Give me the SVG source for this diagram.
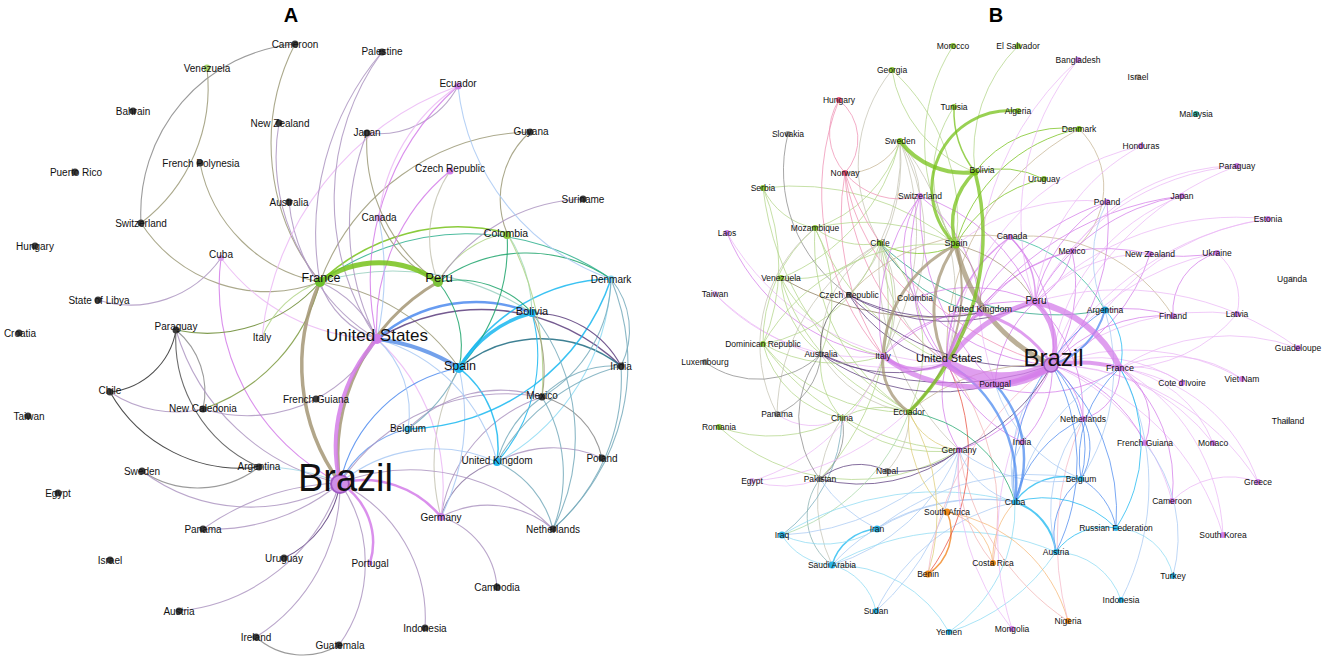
<svg xmlns="http://www.w3.org/2000/svg" width="1325" height="663" viewBox="0 0 1325 663">
<style>
.e path{fill:none;stroke-linecap:round}
.g1{stroke:#77c21a}.gt{stroke:#1fa56c}.ol{stroke:#9c9a78}.ot{stroke:#a49676}.gy{stroke:#8a8a8a}.dk{stroke:#2e2e2e}
.pg{stroke:#ae96c2}.mg{stroke:#d47de9}.lp{stroke:#ebb8f5}.lb{stroke:#a9c9f3}.bl{stroke:#4d8bef}.cy{stroke:#19b7f0}
.tl{stroke:#78acbc}.dp{stroke:#5c3d7d}.dt{stroke:#1c6a80}.lg{stroke:#b3d58a}.pk{stroke:#ef92b4}.tn{stroke:#c7b595}
.lc{stroke:#8edbf3}.or{stroke:#f07d12}.lo{stroke:#f6b878}.rd{stroke:#e84c3c}.yl{stroke:#dccc7a}.g2{stroke:#c6c4b4}.tg{stroke:#2fb08e}
.lr{stroke:#f2b4b4}
.na text,.nb text{fill:#111}
.t{font-family:"Liberation Sans",Arial,sans-serif;font-weight:bold;font-size:20px;fill:#000;text-anchor:middle}
</style>
<rect width="1325" height="663" fill="#fff"/>
<text class="t" x="291" y="22">A</text>
<text class="t" x="996" y="22">B</text>

<g id="edges-a" class="e" stroke-width="1.1" stroke-opacity=".85">
<path class="gy" d="M295 44 A170 170 0 0 0 141 223"/>
<path class="ol" d="M141 223 A150 150 0 0 0 320 282"/>
<path class="ol" d="M207 68 A170 170 0 0 1 141 223"/>
<path class="ol" d="M200 163 A150 150 0 0 0 320 282"/>
<path class="ol" d="M295 44 A220 220 0 0 0 320 282"/>
<path class="pg" d="M279 123 A200 200 0 0 0 320 282"/>
<path class="pg" d="M289 202 A180 180 0 0 0 377 339"/>
<path class="pg" d="M221 258 A110 110 0 0 1 98 300"/>
<path class="lp" d="M221 258 A200 200 0 0 0 377 339"/>
<path class="mg" d="M221 258 A220 220 0 0 0 340 483"/>
<path class="dk" d="M176 330 A75 75 0 0 1 110 392"/>
<path class="dk" stroke-opacity=".7" d="M176 330 A140 140 0 0 0 259 467"/>
<path class="gy" d="M176 330 A80 80 0 0 1 203 409"/>
<path class="pg" d="M176 330 A220 220 0 0 0 340 483"/>
<path class="dk" d="M110 392 A150 150 0 0 0 259 467"/>
<path class="pg" d="M110 392 A120 120 0 0 0 203 409"/>
<path class="pg" d="M203 409 A150 150 0 0 0 316 399"/>
<path stroke="#7d9a40" d="M203 409 A180 180 0 0 0 320 282"/>
<path class="gy" d="M142 471 A100 100 0 0 0 259 467"/>
<path class="pg" d="M142 471 A180 180 0 0 0 340 483"/>
<path class="pg" d="M203 529 A250 250 0 0 1 340 483"/>
<path class="pg" d="M203 529 A200 200 0 0 0 340 483"/>
<path class="dp" d="M284 558 A100 100 0 0 0 340 483"/>
<path class="pg" d="M179 611 A190 190 0 0 0 340 483"/>
<path class="pg" d="M256 637 A180 180 0 0 0 340 483"/>
<path class="gy" d="M256 637 A70 70 0 0 0 339 645"/>
<path class="pg" d="M339 645 A140 140 0 0 0 340 483"/>
<path class="mg" stroke-width="2.5" d="M370 563 A70 70 0 0 0 340 483"/>
<path class="pg" d="M425 628 A150 150 0 0 0 340 483"/>
<path class="mg" stroke-width="2.5" d="M340 483 A100 100 0 0 1 441 517"/>
<path class="pg" d="M441 517 A80 80 0 0 1 497 587"/>
<path class="pg" d="M441 517 A100 100 0 0 1 553 529"/>
<path class="dp" stroke-opacity=".6" d="M441 517 A80 80 0 0 1 497 462"/>
<path class="pg" d="M441 517 A150 150 0 0 1 542 397"/>
<path class="g2" d="M441 517 A200 200 0 0 1 459 368"/>
<path class="lb" d="M441 517 A220 220 0 0 0 459 368"/>
<path class="lp" d="M377 339 A200 200 0 0 1 441 517"/>
<path class="pg" d="M340 483 A200 200 0 0 1 553 529"/>
<path stroke="#6a9ef0" d="M340 483 A100 100 0 0 1 408 429"/>
<path class="bl" d="M340 483 A150 150 0 0 1 459 368"/>
<path class="pg" d="M340 483 A200 200 0 0 1 542 397"/>
<path class="lb" d="M340 483 A150 150 0 0 1 497 462"/>
<path class="g1" stroke-width="1.6" d="M320 282 A200 200 0 0 1 507 233"/>
<path class="pg" d="M320 282 A90 90 0 0 0 377 339"/>
<path class="pg" d="M320 282 A110 110 0 0 1 377 339"/>
<path class="ol" d="M320 282 A200 200 0 0 1 459 368"/>
<path stroke="#9ad0c0" d="M320 282 A250 250 0 0 1 532 313"/>
<path stroke="#6a8a30" d="M320 282 A150 150 0 0 1 176 330"/>
<path class="lg" d="M320 282 A100 100 0 0 0 262 337"/>
<path class="dp" stroke-width="1.5" d="M377 339 A200 200 0 0 1 621 366"/>
<path class="bl" stroke-width="2.5" d="M377 339 A150 150 0 0 1 532 313"/>
<path class="cy" stroke-width="1.5" d="M459 368 A180 180 0 0 1 611 279"/>
<path class="dt" stroke-width="1.5" d="M459 368 A130 130 0 0 1 621 366"/>
<path class="cy" stroke-width="1.5" d="M408 429 A220 220 0 0 0 611 279"/>
<path class="cy" stroke-width="1.5" d="M459 368 A100 100 0 0 1 497 462"/>
<path class="cy" d="M497 462 A160 160 0 0 0 532 313"/>
<path class="lc" d="M497 462 A220 220 0 0 0 611 279"/>
<path class="gt" d="M438 282 A100 100 0 0 1 532 313"/>
<path class="lg" d="M438 282 A100 100 0 0 1 507 233"/>
<path class="gt" d="M507 233 A180 180 0 0 1 459 368"/>
<path stroke="#a8dcc0" d="M507 233 A150 150 0 0 1 532 313"/>
<path class="gt" d="M438 282 A150 150 0 0 1 611 279"/>
<path class="gt" d="M438 282 A100 100 0 0 1 459 368"/>
<path class="tg" d="M320 282 A250 250 0 0 1 611 279"/>
<path class="ol" d="M507 233 A90 90 0 0 1 530 132"/>
<path class="ol" d="M530 132 A230 230 0 0 0 320 282"/>
<path class="pg" d="M583 199 A180 180 0 0 0 438 282"/>
<path class="lb" d="M458 86 A230 230 0 0 0 611 279"/>
<path class="pg" d="M458 86 A90 90 0 0 1 367 133"/>
<path class="mg" d="M458 86 A260 260 0 0 0 377 339"/>
<path class="lp" d="M458 86 A180 180 0 0 0 379 218"/>
<path class="lp" d="M458 86 A300 300 0 0 0 262 337"/>
<path class="pg" d="M367 133 A250 250 0 0 0 377 339"/>
<path class="ol" d="M367 133 A170 170 0 0 0 438 282"/>
<path class="pg" d="M382 52 A250 250 0 0 0 377 339"/>
<path class="pg" d="M382 52 A280 280 0 0 0 320 282"/>
<path class="mg" d="M450 171 A200 200 0 0 0 377 339"/>
<path class="g2" d="M450 171 A120 120 0 0 0 438 282"/>
<path class="lb" d="M379 218 A300 300 0 0 1 377 339"/>
<path class="ol" d="M379 218 A120 120 0 0 0 438 282"/>
<path class="tl" d="M611 279 A140 140 0 0 1 542 397"/>
<path class="tl" d="M611 279 A220 220 0 0 1 553 529"/>
<path class="tl" d="M621 366 A200 200 0 0 1 553 529"/>
<path class="tl" d="M621 366 A100 100 0 0 0 542 397"/>
<path class="tl" d="M621 366 A200 200 0 0 0 497 462"/>
<path class="gy" d="M542 397 A80 80 0 0 1 602 458"/>
<path class="tl" d="M542 397 A120 120 0 0 0 497 462"/>
<path class="pg" d="M542 397 A130 130 0 0 0 408 429"/>
<path class="tl" d="M542 397 A150 150 0 0 1 553 529"/>
<path class="pg" d="M602 458 A120 120 0 0 0 497 462"/>
<path class="tl" d="M497 462 A100 100 0 0 1 553 529"/>
<path class="dp" d="M532 313 A100 100 0 0 1 621 366"/>
<path class="lg" d="M507 233 A300 300 0 0 1 542 397"/>
<path class="tl" d="M611 279 A80 80 0 0 1 621 366"/>
<path stroke="#a8d8e8" d="M259 467 A200 200 0 0 1 340 483"/>
<path class="pg" d="M316 399 A150 150 0 0 0 377 339"/>
<path class="tl" d="M408 429 A150 150 0 0 0 459 368"/>
<path class="lb" d="M377 339 A100 100 0 0 1 408 429"/>
<path class="lb" d="M377 339 A170 170 0 0 1 497 462"/>
<path class="ol" d="M532 313 A150 150 0 0 1 542 397"/>
<path class="tl" d="M532 313 A200 200 0 0 1 553 529"/>
<path class="ot" stroke-width="3.5" d="M340 483 A200 200 0 0 1 320 282"/>
<path class="ot" stroke-width="3" d="M340 483 A200 200 0 0 1 438 282"/>
<path class="mg" stroke-width="4" d="M340 483 A160 160 0 0 1 377 339"/>
<path stroke="#5a90e8" stroke-width="4" d="M377 339 A200 200 0 0 1 459 368"/>
<path class="cy" stroke-width="3.5" d="M459 368 A120 120 0 0 1 532 313"/>
<path class="g1" stroke-width="5" d="M320 282 A100 100 0 0 1 438 282"/>
</g>

<g id="edges-b" class="e" stroke-width="1" stroke-opacity=".75">
<path class="g1" stroke-width="1.5" d="M954 107 A100 100 0 0 0 975 172"/>
<path class="g1" d="M1079 129 A110 110 0 0 0 975 172"/>
<path class="g1" d="M1079 129 A160 160 0 0 0 956 245"/>
<path class="g1" d="M1044 179 A100 100 0 0 0 975 172"/>
<path class="g1" d="M1044 179 A130 130 0 0 0 956 245"/>
<path class="tn" d="M1079 129 A250 250 0 0 0 947 363"/>
<path class="tn" d="M1079 129 A80 80 0 0 1 1072 251"/>
<path class="lg" d="M953 46 A180 180 0 0 0 956 245"/>
<path class="lg" d="M1018 46 A150 150 0 0 0 975 172"/>
<path class="g2" d="M892 70 A150 150 0 0 0 880 243"/>
<path class="lg" d="M892 70 A130 130 0 0 0 975 172"/>
<path class="lg" d="M892 70 A200 200 0 0 1 956 245"/>
<path class="lg" d="M954 107 A120 120 0 0 0 956 245"/>
<path class="lg" d="M900 141 A130 130 0 0 1 815 228"/>
<path class="g2" d="M900 141 A200 200 0 0 1 880 243"/>
<path class="tn" d="M900 141 A60 60 0 0 1 845 173"/>
<path class="g2" d="M900 141 A200 200 0 0 1 915 298"/>
<path class="g2" d="M900 141 A100 100 0 0 1 920 196"/>
<path class="g2" d="M900 141 A200 200 0 0 1 849 295"/>
<path class="g2" d="M900 141 A250 250 0 0 1 883 356"/>
<path class="lg" d="M900 141 A200 200 0 0 1 781 278"/>
<path class="g2" d="M900 141 A250 250 0 0 1 947 363"/>
<path class="lg" d="M763 188 A70 70 0 0 0 815 228"/>
<path class="lg" d="M763 188 A200 200 0 0 1 763 344"/>
<path class="lg" d="M763 188 A250 250 0 0 1 956 245"/>
<path class="lg" d="M763 188 A300 300 0 0 0 909 412"/>
<path class="gy" d="M788 134 A150 150 0 0 0 849 295"/>
<path class="pk" d="M839 100 A60 60 0 0 0 845 173"/>
<path class="pk" d="M839 100 A50 50 0 0 1 845 173"/>
<path class="pk" d="M845 173 A70 70 0 0 0 920 196"/>
<path class="pk" d="M845 173 A250 250 0 0 0 883 356"/>
<path class="pk" d="M845 173 A250 250 0 0 0 947 363"/>
<path class="pk" d="M845 173 A200 200 0 0 0 915 298"/>
<path class="pk" d="M845 173 A300 300 0 0 0 1052 365"/>
<path class="pk" d="M839 100 A250 250 0 0 0 883 356"/>
<path class="mg" d="M727 233 A200 200 0 0 0 883 356"/>
<path class="lp" d="M727 233 A260 260 0 0 0 947 363"/>
<path class="lp" d="M715 294 A260 260 0 0 0 947 363"/>
<path class="lp" d="M715 294 A200 200 0 0 0 883 356"/>
<path class="lg" d="M781 278 A120 120 0 0 0 880 243"/>
<path class="lg" d="M781 278 A200 200 0 0 0 909 412"/>
<path class="lg" d="M781 278 A150 150 0 0 0 883 356"/>
<path class="lg" d="M781 278 A100 100 0 0 0 821 354"/>
<path stroke="#8a7a5a" d="M781 278 A300 300 0 0 0 980 313"/>
<path class="lg" d="M815 228 A80 80 0 0 0 880 243"/>
<path class="lg" d="M815 228 A200 200 0 0 1 956 245"/>
<path class="lg" d="M815 228 A150 150 0 0 0 763 344"/>
<path class="lg" d="M815 228 A200 200 0 0 0 909 412"/>
<path class="lg" d="M815 228 A250 250 0 0 0 947 363"/>
<path class="lg" d="M815 228 A150 150 0 0 1 821 354"/>
<path class="g2" d="M815 228 A150 150 0 0 0 777 414"/>
<path class="g1" d="M880 243 A80 80 0 0 0 956 245"/>
<path stroke="#20a080" d="M880 243 A150 150 0 0 0 980 313"/>
<path stroke="#20a080" d="M880 243 A250 250 0 0 0 1105 310"/>
<path class="g2" d="M880 243 A200 200 0 0 0 777 414"/>
<path class="lg" d="M880 243 A150 150 0 0 1 842 418"/>
<path class="lg" d="M880 243 A150 150 0 0 1 909 412"/>
<path class="g2" d="M880 243 A120 120 0 0 0 821 354"/>
<path class="g2" d="M880 243 A150 150 0 0 0 947 363"/>
<path class="g2" d="M880 243 A120 120 0 0 1 883 356"/>
<path class="lg" d="M880 243 A150 150 0 0 1 763 344"/>
<path class="lg" d="M880 243 A250 250 0 0 1 820 479"/>
<path class="g2" d="M880 243 A250 250 0 0 0 959 450"/>
<path class="mg" d="M920 196 A180 180 0 0 0 947 363"/>
<path class="mg" d="M920 196 A200 200 0 0 0 883 356"/>
<path class="mg" d="M920 196 A180 180 0 0 1 1035 302"/>
<path class="mg" d="M920 196 A150 150 0 0 1 980 313"/>
<path class="mg" d="M920 196 A100 100 0 0 0 915 298"/>
<path class="mg" d="M920 196 A250 250 0 0 0 995 384"/>
<path class="mg" d="M915 298 A100 100 0 0 0 947 363"/>
<path class="mg" d="M915 298 A200 200 0 0 0 1052 365"/>
<path class="mg" d="M915 298 A150 150 0 0 1 1035 302"/>
<path class="mg" d="M883 356 A200 200 0 0 1 1035 302"/>
<path class="mg" d="M883 356 A120 120 0 0 1 980 313"/>
<path class="mg" d="M995 384 A120 120 0 0 1 1035 302"/>
<path class="mg" stroke-width="1.5" d="M1010 237 A80 80 0 0 1 1035 302"/>
<path class="mg" stroke-width="1.5" d="M1010 237 A150 150 0 0 0 947 363"/>
<path class="mg" d="M1010 237 A150 150 0 0 1 1052 365"/>
<path class="mg" d="M1010 237 A100 100 0 0 0 980 313"/>
<path stroke="#30b898" d="M1010 237 A150 150 0 0 1 1105 310"/>
<path class="tn" d="M1010 237 A180 180 0 0 0 849 295"/>
<path class="tn" d="M1010 237 A170 170 0 0 1 1173 316"/>
<path class="mg" d="M1072 251 A80 80 0 0 1 1035 302"/>
<path class="mg" d="M1072 251 A180 180 0 0 0 947 363"/>
<path class="mg" d="M1072 251 A150 150 0 0 1 1052 365"/>
<path class="mg" d="M1072 251 A150 150 0 0 0 980 313"/>
<path class="mg" d="M1150 254 A200 200 0 0 0 1072 251"/>
<path class="lp" d="M1150 254 A150 150 0 0 0 1035 302"/>
<path class="mg" d="M1150 254 A180 180 0 0 1 1052 365"/>
<path class="mg" d="M1217 253 A200 200 0 0 1 1150 254"/>
<path class="mg" d="M1217 253 A60 60 0 0 0 1173 316"/>
<path class="lp" d="M1217 253 A60 60 0 0 1 1237 314"/>
<path class="lp" d="M1217 253 A250 250 0 0 0 1052 365"/>
<path class="mg" d="M1173 316 A150 150 0 0 0 1105 310"/>
<path class="mg" d="M1173 316 A150 150 0 0 0 1052 365"/>
<path class="lp" d="M1237 314 A250 250 0 0 0 1052 365"/>
<path class="lp" d="M1237 314 A150 150 0 0 1 1120 368"/>
<path class="mg" d="M1182 196 A200 200 0 0 0 1035 302"/>
<path class="lp" d="M1182 196 A200 200 0 0 0 1052 365"/>
<path class="mg" d="M1182 196 A300 300 0 0 0 947 363"/>
<path class="lp" d="M1237 166 A250 250 0 0 0 1035 302"/>
<path class="lp" d="M1237 166 A200 200 0 0 0 1072 251"/>
<path class="lp" d="M1237 166 A300 300 0 0 0 1052 365"/>
<path class="lp" d="M1268 219 A280 280 0 0 0 1035 302"/>
<path class="lp" d="M1268 219 A250 250 0 0 0 1105 310"/>
<path class="lp" d="M1268 219 A300 300 0 0 0 1052 365"/>
<path class="lp" d="M1141 146 A250 250 0 0 0 947 363"/>
<path class="lp" d="M1141 146 A200 200 0 0 0 1035 302"/>
<path class="lp" d="M1078 60 A300 300 0 0 0 995 384"/>
<path class="lp" d="M1078 60 A250 250 0 0 0 1035 302"/>
<path class="mg" d="M1107 202 A150 150 0 0 0 1035 302"/>
<path class="lp" d="M1107 202 A200 200 0 0 0 956 245"/>
<path class="lb" d="M1107 202 A120 120 0 0 0 1105 310"/>
<path class="mg" d="M1107 202 A200 200 0 0 1 1052 365"/>
<path class="mg" d="M1107 202 A250 250 0 0 0 947 363"/>
<path class="lp" d="M1298 348 A300 300 0 0 0 1035 302"/>
<path class="lp" d="M1298 348 A200 200 0 0 0 1120 368"/>
<path class="lp" d="M1242 379 A220 220 0 0 0 1052 365"/>
<path class="lp" d="M1242 379 A120 120 0 0 0 1120 368"/>
<path class="lp" d="M1182 383 A150 150 0 0 0 1052 365"/>
<path class="lp" d="M1182 383 A80 80 0 0 0 1120 368"/>
<path class="lp" d="M1213 443 A120 120 0 0 0 1120 368"/>
<path class="lp" d="M1213 443 A200 200 0 0 0 1052 365"/>
<path class="lp" d="M1258 482 A80 80 0 0 0 1172 501"/>
<path class="lp" d="M1258 482 A170 170 0 0 0 1120 368"/>
<path class="lp" d="M1258 482 A250 250 0 0 0 1052 365"/>
<path class="lp" d="M1223 535 A200 200 0 0 0 1120 368"/>
<path class="lp" d="M1223 535 A250 250 0 0 0 1052 365"/>
<path class="mg" d="M1172 501 A150 150 0 0 0 1120 368"/>
<path class="lp" d="M1172 501 A200 200 0 0 0 1052 365"/>
<path class="mg" d="M1145 443 A60 60 0 0 0 1120 368"/>
<path class="mg" d="M1145 443 A150 150 0 0 0 1052 365"/>
<path class="mg" d="M1083 419 A80 80 0 0 0 1052 365"/>
<path class="mg" d="M1083 419 A50 50 0 0 0 1120 368"/>
<path class="mg" d="M1083 419 A150 150 0 0 0 1035 302"/>
<path class="mg" d="M1022 442 A100 100 0 0 0 1052 365"/>
<path class="mg" d="M959 450 A150 150 0 0 0 1052 365"/>
<path class="mg" d="M959 450 A100 100 0 0 1 947 363"/>
<path class="mg" d="M947 363 A150 150 0 0 0 1120 368"/>
<path class="dp" d="M821 354 A200 200 0 0 0 995 384"/>
<path class="dp" d="M821 354 A300 300 0 0 0 1052 365"/>
<path class="dp" d="M821 354 A150 150 0 0 0 947 363"/>
<path class="g2" d="M821 354 A120 120 0 0 0 909 412"/>
<path class="dp" d="M849 295 A200 200 0 0 0 980 313"/>
<path class="dp" d="M849 295 A150 150 0 0 0 947 363"/>
<path class="dp" d="M849 295 A250 250 0 0 0 1052 365"/>
<path class="dp" d="M849 295 A200 200 0 0 0 1035 302"/>
<path stroke="#555" d="M849 295 A60 60 0 0 0 821 354"/>
<path class="gy" d="M705 362 A90 90 0 0 0 821 354"/>
<path class="lg" d="M763 344 A150 150 0 0 0 883 356"/>
<path class="lg" d="M763 344 A180 180 0 0 0 909 412"/>
<path class="lg" d="M763 344 A200 200 0 0 1 956 245"/>
<path class="lg" d="M763 344 A100 100 0 0 0 842 418"/>
<path class="lg" d="M763 344 A250 250 0 0 0 959 450"/>
<path class="gy" d="M777 414 A70 70 0 0 0 821 354"/>
<path class="lp" d="M777 414 A60 60 0 0 0 842 418"/>
<path class="lg" d="M842 418 A80 80 0 0 1 821 354"/>
<path class="lg" d="M842 418 A80 80 0 0 1 909 412"/>
<path class="lg" d="M842 418 A150 150 0 0 0 959 450"/>
<path class="gy" d="M842 418 A60 60 0 0 1 820 479"/>
<path class="g2" d="M842 418 A150 150 0 0 0 832 565"/>
<path class="tl" d="M842 418 A150 150 0 0 1 782 535"/>
<path class="lg" d="M719 427 A200 200 0 0 0 959 450"/>
<path class="lg" d="M719 427 A150 150 0 0 0 842 418"/>
<path class="lp" d="M752 481 A200 200 0 0 0 883 356"/>
<path class="lp" d="M752 481 A100 100 0 0 0 820 479"/>
<path class="lp" d="M752 481 A250 250 0 0 0 947 363"/>
<path class="dp" d="M820 479 A60 60 0 0 1 887 471"/>
<path class="dp" d="M820 479 A160 160 0 0 0 959 450"/>
<path class="dp" d="M887 471 A100 100 0 0 0 959 450"/>
<path class="g2" d="M887 471 A80 80 0 0 0 909 412"/>
<path class="gy" d="M820 479 A100 100 0 0 1 821 354"/>
<path stroke="#8ab0b0" d="M820 479 A60 60 0 0 0 832 565"/>
<path class="lb" d="M820 479 A150 150 0 0 0 877 529"/>
<path class="cy" stroke-width="1.5" d="M832 565 A50 50 0 0 1 877 529"/>
<path class="lc" d="M832 565 A60 60 0 0 1 782 535"/>
<path class="lc" d="M832 565 A60 60 0 0 1 876 611"/>
<path class="lc" d="M832 565 A130 130 0 0 1 949 632"/>
<path class="lc" d="M782 535 A100 100 0 0 0 877 529"/>
<path stroke="#a8d8a8" d="M782 535 A200 200 0 0 0 909 412"/>
<path class="lc" d="M782 535 A300 300 0 0 1 1015 502"/>
<path class="lb" d="M782 535 A250 250 0 0 0 959 450"/>
<path class="lb" d="M832 565 A200 200 0 0 1 1015 502"/>
<path class="lb" d="M832 565 A200 200 0 0 0 959 450"/>
<path class="lc" d="M832 565 A250 250 0 0 1 1056 552"/>
<path class="lb" d="M876 611 A200 200 0 0 1 1015 502"/>
<path class="lb" d="M876 611 A250 250 0 0 0 959 450"/>
<path class="lc" d="M949 632 A150 150 0 0 0 1015 502"/>
<path class="lc" d="M949 632 A200 200 0 0 0 1056 552"/>
<path class="lb" d="M877 529 A200 200 0 0 1 1015 502"/>
<path class="lb" d="M877 529 A250 250 0 0 1 1081 479"/>
<path class="or" stroke-width="1.5" d="M947 512 A50 50 0 0 1 928 574"/>
<path class="lo" d="M947 512 A60 60 0 0 1 993 563"/>
<path class="lo" d="M947 512 A150 150 0 0 1 1068 621"/>
<path class="lo" d="M993 563 A80 80 0 0 1 1015 502"/>
<path class="rd" d="M928 574 A200 200 0 0 0 947 363"/>
<path class="yl" d="M928 574 A200 200 0 0 0 909 412"/>
<path stroke="#f4b8c8" d="M928 574 A300 300 0 0 1 1052 365"/>
<path class="lr" d="M993 563 A250 250 0 0 0 947 363"/>
<path class="lr" d="M993 563 A150 150 0 0 1 959 450"/>
<path class="lr" d="M1068 621 A250 250 0 0 1 959 450"/>
<path stroke="#f4b8c8" d="M1068 621 A300 300 0 0 1 1083 419"/>
<path class="lp" d="M1012 629 A300 300 0 0 1 1052 365"/>
<path class="lp" d="M1012 629 A250 250 0 0 1 959 450"/>
<path class="cy" stroke-width="1.5" d="M1015 502 A60 60 0 0 1 1081 479"/>
<path class="cy" d="M1015 502 A100 100 0 0 1 1116 528"/>
<path class="cy" stroke-width="2" d="M1015 502 A60 60 0 0 1 1056 552"/>
<path class="bl" d="M1081 479 A70 70 0 0 0 1056 552"/>
<path class="bl" d="M1081 479 A70 70 0 0 1 1116 528"/>
<path class="cy" d="M1056 552 A60 60 0 0 1 1116 528"/>
<path class="lc" d="M1056 552 A70 70 0 0 1 1121 600"/>
<path class="lc" d="M1116 528 A60 60 0 0 1 1173 576"/>
<path class="lb" d="M1173 576 A150 150 0 0 0 1145 443"/>
<path class="lb" d="M1121 600 A250 250 0 0 0 1120 368"/>
<path class="bl" stroke-width="2" d="M1105 310 A80 80 0 0 1 1052 365"/>
<path class="bl" d="M1105 310 A200 200 0 0 0 1015 502"/>
<path class="lb" d="M1105 310 A200 200 0 0 1 1081 479"/>
<path class="cy" d="M1105 310 A60 60 0 0 1 1120 368"/>
<path class="bl" d="M1052 365 A120 120 0 0 1 1081 479"/>
<path class="bl" d="M1052 365 A200 200 0 0 1 1056 552"/>
<path class="bl" d="M1052 365 A200 200 0 0 1 1116 528"/>
<path class="lb" d="M1052 365 A150 150 0 0 0 1015 502"/>
<path class="dp" d="M1052 365 A200 200 0 0 1 959 450"/>
<path class="mg" d="M947 363 A150 150 0 0 0 1022 442"/>
<path class="tn" d="M909 412 A200 200 0 0 1 1052 365"/>
<path class="gt" d="M909 412 A130 130 0 0 1 1015 502"/>
<path class="yl" d="M909 412 A60 60 0 0 0 959 450"/>
<path class="yl" d="M909 412 A120 120 0 0 0 947 512"/>
<path class="bl" d="M1083 419 A120 120 0 0 0 1015 502"/>
<path class="bl" d="M1083 419 A60 60 0 0 1 1081 479"/>
<path class="lb" d="M1083 419 A150 150 0 0 0 1056 552"/>
<path class="lb" d="M995 384 A150 150 0 0 0 1081 479"/>
<path class="lb" d="M1022 442 A80 80 0 0 0 1015 502"/>
<path class="lb" d="M959 450 A80 80 0 0 0 1015 502"/>
<path class="lb" d="M959 450 A150 150 0 0 0 1081 479"/>
<path class="cy" d="M1120 368 A150 150 0 0 1 1116 528"/>
<path class="bl" d="M1120 368 A120 120 0 0 0 1081 479"/>
<path class="lb" d="M1120 368 A200 200 0 0 0 1015 502"/>
<path class="bl" stroke-width="2.5" d="M1015 502 A140 140 0 0 0 947 363"/>
<path class="bl" stroke-width="2.5" d="M995 384 A110 110 0 0 1 1015 502"/>
<path class="ot" d="M956 245 A120 120 0 0 1 1035 302"/>
<path class="ot" d="M956 245 A80 80 0 0 1 980 313"/>
<path class="ot" stroke-width="2" d="M956 245 A170 170 0 0 1 909 412"/>
<path class="ot" stroke-width="3" d="M956 245 A110 110 0 0 0 947 363"/>
<path class="ot" stroke-width="3" d="M956 245 A130 130 0 0 0 883 356"/>
<path class="ot" stroke-width="3" d="M883 356 A60 60 0 0 0 909 412"/>
<path class="ot" stroke-width="5" d="M956 245 A170 170 0 0 0 1052 365"/>
<path class="mg" stroke-width="3" d="M883 356 A60 60 0 0 0 947 363"/>
<path class="mg" stroke-width="5" d="M883 356 A150 150 0 0 0 1052 365"/>
<path class="mg" stroke-width="3" d="M947 363 A80 80 0 0 1 980 313"/>
<path class="mg" stroke-width="3" d="M980 313 A120 120 0 0 1 1052 365"/>
<path class="mg" stroke-width="5" d="M947 363 A150 150 0 0 1 1035 302"/>
<path class="mg" stroke-width="5" d="M1035 302 A60 60 0 0 1 1052 365"/>
<path class="mg" stroke-width="6" d="M1035 302 A120 120 0 0 1 1120 368"/>
<path class="mg" stroke-width="4" d="M1052 365 A150 150 0 0 1 1120 368"/>
<path class="mg" stroke-width="5" d="M947 363 A60 60 0 0 0 995 384"/>
<path class="mg" stroke-width="6" d="M995 384 A80 80 0 0 0 1052 365"/>
<path class="mg" stroke-width="10" d="M947 363 A110 110 0 0 0 1052 365"/>
<path class="g1" stroke-width="4" d="M900 141 A80 80 0 0 0 975 172"/>
<path class="g1" stroke-width="3" d="M1018 111 A78 78 0 0 0 956 245"/>
<path class="g1" stroke-width="3.5" d="M975 172 A70 70 0 0 0 956 245"/>
<path class="g1" stroke-width="3.5" d="M975 172 A250 250 0 0 1 909 412"/>
</g>

<g id="nodes-a" class="na" fill="#3a3a3a" font-family="'Liberation Sans',Arial,sans-serif" font-size="10" text-anchor="middle">
<g id="a-cameroon"><circle cx="295" cy="44" r="3.5"/><text x="295" y="47.5">Cameroon</text></g>
<g id="a-venezuela"><circle cx="207" cy="68" r="3.5" fill="#a5d46a"/><text x="207" y="71.5">Venezuela</text></g>
<g id="a-bahrain"><circle cx="133" cy="111" r="3.5"/><text x="133" y="114.5">Bahrain</text></g>
<g id="a-newzealand"><circle cx="279" cy="123" r="3.5"/><text x="280" y="126.5">New Zealand</text></g>
<g id="a-frenchpolynesia"><circle cx="200" cy="163" r="3.5"/><text x="201" y="166.5">French Polynesia</text></g>
<g id="a-puertorico"><circle cx="75" cy="172" r="3.5"/><text x="76" y="175.5">Puerto Rico</text></g>
<g id="a-australia"><circle cx="289" cy="202" r="3.5"/><text x="289" y="205.5">Australia</text></g>
<g id="a-switzerland"><circle cx="141" cy="223" r="3.5"/><text x="141" y="226.5">Switzerland</text></g>
<g id="a-hungary"><circle cx="35" cy="246" r="3.5"/><text x="35" y="249.5">Hungary</text></g>
<g id="a-cuba"><circle cx="221" cy="258" r="3" fill="#d9a0ec"/><text x="221" y="257.5">Cuba</text></g>
<g id="a-statelibya"><circle cx="98" cy="300" r="3.5"/><text x="99" y="303.5">State of Libya</text></g>
<g id="a-paraguay"><circle cx="176" cy="330" r="3.5"/><text x="176" y="329.5">Paraguay</text></g>
<g id="a-croatia"><circle cx="19" cy="333" r="3.5"/><text x="20" y="336.5">Croatia</text></g>
<g id="a-italy"><text x="262" y="340.5">Italy</text></g>
<g id="a-chile"><circle cx="110" cy="392" r="3.5"/><text x="110" y="393.5">Chile</text></g>
<g id="a-frenchguiana"><circle cx="316" cy="399" r="3.5"/><text x="316" y="402.5">French Guiana</text></g>
<g id="a-newcaledonia"><circle cx="203" cy="409" r="3.5"/><text x="203" y="411.5">New Caledonia</text></g>
<g id="a-taiwan"><circle cx="28" cy="416" r="3.5"/><text x="29" y="419.5">Taiwan</text></g>
<g id="a-argentina"><circle cx="259" cy="467" r="3.5"/><text x="259" y="469.5">Argentina</text></g>
<g id="a-sweden"><circle cx="142" cy="471" r="3.5"/><text x="142" y="474.5">Sweden</text></g>
<g id="a-egypt"><circle cx="58" cy="493" r="3.5"/><text x="58" y="496.5">Egypt</text></g>
<g id="a-panama"><circle cx="203" cy="529" r="3.5"/><text x="203" y="532.5">Panama</text></g>
<g id="a-uruguay"><circle cx="284" cy="558" r="3.5"/><text x="284" y="561.5">Uruguay</text></g>
<g id="a-israel"><circle cx="110" cy="560" r="3.5"/><text x="110" y="563.5">Israel</text></g>
<g id="a-austria"><circle cx="179" cy="611" r="3.5"/><text x="179" y="614.5">Austria</text></g>
<g id="a-ireland"><circle cx="256" cy="637" r="3.5"/><text x="256" y="640.5">Ireland</text></g>
<g id="a-guatemala"><circle cx="339" cy="645" r="3.5"/><text x="340" y="648.5">Guatemala</text></g>
<g id="a-portugal"><circle cx="370" cy="563" r="2.5" fill="#d07de8"/><text x="370" y="566.5">Portugal</text></g>
<g id="a-indonesia"><circle cx="425" cy="628" r="3.5"/><text x="425" y="631.5">Indonesia</text></g>
<g id="a-germany"><circle cx="441" cy="517" r="4" fill="#c87ee6"/><text x="441" y="520.5">Germany</text></g>
<g id="a-cambodia"><circle cx="497" cy="587" r="3.5"/><text x="497" y="590.5">Cambodia</text></g>
<g id="a-netherlands"><circle cx="553" cy="529" r="3.5"/><text x="553" y="532.5">Netherlands</text></g>
<g id="a-belgium"><circle cx="408" cy="429" r="3.5" fill="#40c0ee"/><text x="408" y="432">Belgium</text></g>
<g id="a-unitedkingdom"><circle cx="497" cy="462" r="4" fill="#22b8f0"/><text x="497" y="464">United Kingdom</text></g>
<g id="a-poland"><circle cx="602" cy="458" r="3.5"/><text x="602" y="461.5">Poland</text></g>
<g id="a-mexico"><circle cx="542" cy="397" r="3.5"/><text x="542" y="398.5">Mexico</text></g>
<g id="a-india"><circle cx="621" cy="366" r="3.5"/><text x="621" y="369.5">India</text></g>
<g id="a-denmark"><circle cx="611" cy="279" r="3.5" fill="#7fd4f0"/><text x="611" y="282.5">Denmark</text></g>
<g id="a-suriname"><circle cx="583" cy="199" r="3.5"/><text x="583" y="202.5">Suriname</text></g>
<g id="a-czech"><circle cx="450" cy="171" r="3.5" fill="#d07de8"/><text x="450" y="171.5">Czech Republic</text></g>
<g id="a-guyana"><circle cx="530" cy="132" r="3.5"/><text x="531" y="134.5">Guyana</text></g>
<g id="a-canada"><circle cx="379" cy="218" r="3.5" fill="#d9a0ec"/><text x="379" y="220.5">Canada</text></g>
<g id="a-japan"><circle cx="367" cy="133" r="3.5"/><text x="367" y="135.5">Japan</text></g>
<g id="a-ecuador"><circle cx="458" cy="86" r="3.5" fill="#d07de8"/><text x="458" y="86.5">Ecuador</text></g>
<g id="a-palestine"><circle cx="382" cy="52" r="3.5"/><text x="382" y="54.5">Palestine</text></g>
<g id="a-colombia"><circle cx="507" cy="235" r="4" fill="#8cc63a"/><text x="506" y="237" font-size="10.5">Colombia</text></g>
<g id="a-bolivia"><circle cx="532" cy="313" r="4" fill="#22b8f0"/><text x="532" y="315" font-size="11">Bolivia</text></g>
<g id="a-spain"><circle cx="459" cy="368" r="5" fill="#22b8f0"/><text x="460" y="370" font-size="12.5">Spain</text></g>
<g id="a-peru"><circle cx="438" cy="282" r="5" fill="#7cc23a"/><text x="439" y="282" font-size="13">Peru</text></g>
<g id="a-france"><circle cx="320" cy="282" r="5" fill="#6cc02a"/><text x="321" y="282" font-size="12.5">France</text></g>
<g id="a-unitedstates"><circle cx="377" cy="339" r="5" fill="#d07de8"/><text x="377" y="341" font-size="17">United States</text></g>
<g id="a-brazil"><circle cx="340" cy="484" r="9" fill="#cf8ee6" stroke="#a05ac4" stroke-width="2"/><text x="345.5" y="491" font-size="38">Brazil</text></g>
</g>

<g id="nodes-b" class="nb" fill="#d07de8" font-family="'Liberation Sans',Arial,sans-serif" font-size="8.5" text-anchor="middle">
<g id="b-morocco"><circle cx="953" cy="46" r="3" fill="#8cc63a"/><text x="953" y="49">Morocco</text></g>
<g id="b-elsalvador"><circle cx="1018" cy="46" r="3" fill="#8cc63a"/><text x="1018" y="49">El Salvador</text></g>
<g id="b-bangladesh"><circle cx="1078" cy="60" r="3"/><text x="1078" y="63">Bangladesh</text></g>
<g id="b-georgia"><circle cx="892" cy="70" r="3" fill="#8cc63a"/><text x="892" y="73">Georgia</text></g>
<g id="b-israel"><circle cx="1138" cy="77" r="3" fill="#c9b8a8"/><text x="1138" y="80">Israel</text></g>
<g id="b-hungary"><circle cx="839" cy="100" r="3" fill="#e8577d"/><text x="839" y="103">Hungary</text></g>
<g id="b-tunisia"><circle cx="954" cy="107" r="3" fill="#8cc63a"/><text x="954" y="110">Tunisia</text></g>
<g id="b-algeria"><circle cx="1018" cy="111" r="3" fill="#8cc63a"/><text x="1018" y="114">Algeria</text></g>
<g id="b-malaysia"><circle cx="1196" cy="114" r="3" fill="#2aa890"/><text x="1196" y="117">Malaysia</text></g>
<g id="b-denmark"><circle cx="1079" cy="129" r="3" fill="#7cc21e"/><text x="1079" y="132">Denmark</text></g>
<g id="b-slovakia"><circle cx="788" cy="134" r="3" fill="#999"/><text x="788" y="137">Slovakia</text></g>
<g id="b-sweden"><circle cx="900" cy="141" r="3" fill="#7cc21e"/><text x="900" y="144">Sweden</text></g>
<g id="b-honduras"><circle cx="1141" cy="146" r="3"/><text x="1141" y="149">Honduras</text></g>
<g id="b-paraguay"><circle cx="1237" cy="166" r="3"/><text x="1237" y="169">Paraguay</text></g>
<g id="b-bolivia"><circle cx="975" cy="172" r="3.5" fill="#7cc21e"/><text x="982" y="173">Bolivia</text></g>
<g id="b-norway"><circle cx="845" cy="173" r="3" fill="#e8577d"/><text x="845" y="176">Norway</text></g>
<g id="b-uruguay"><circle cx="1044" cy="179" r="3" fill="#8cc63a"/><text x="1044" y="182">Uruguay</text></g>
<g id="b-serbia"><circle cx="763" cy="188" r="3" fill="#8cc63a"/><text x="763" y="191">Serbia</text></g>
<g id="b-japan"><circle cx="1182" cy="196" r="3"/><text x="1182" y="199">Japan</text></g>
<g id="b-switzerland"><circle cx="920" cy="196" r="3"/><text x="920" y="199">Switzerland</text></g>
<g id="b-poland"><circle cx="1107" cy="202" r="3"/><text x="1107" y="205">Poland</text></g>
<g id="b-estonia"><circle cx="1268" cy="219" r="3"/><text x="1268" y="222">Estonia</text></g>
<g id="b-mozambique"><circle cx="815" cy="228" r="3" fill="#8cc63a"/><text x="815" y="231">Mozambique</text></g>
<g id="b-laos"><circle cx="727" cy="233" r="3"/><text x="727" y="236">Laos</text></g>
<g id="b-canada"><circle cx="1010" cy="237" r="3"/><text x="1012" y="239" font-size="8.7">Canada</text></g>
<g id="b-chile"><circle cx="880" cy="243" r="3" fill="#8cc63a"/><text x="880" y="246">Chile</text></g>
<g id="b-mexico"><circle cx="1072" cy="251" r="3"/><text x="1072" y="254">Mexico</text></g>
<g id="b-newzealand"><circle cx="1150" cy="254" r="3"/><text x="1150" y="257">New Zealand</text></g>
<g id="b-ukraine"><circle cx="1217" cy="253" r="3"/><text x="1217" y="256">Ukraine</text></g>
<g id="b-venezuela"><circle cx="781" cy="278" r="3" fill="#8cc63a"/><text x="781" y="281">Venezuela</text></g>
<g id="b-uganda"><circle cx="1292" cy="279" r="3" fill="#ddd"/><text x="1292" y="282">Uganda</text></g>
<g id="b-taiwan"><circle cx="715" cy="294" r="3" fill="#e0b0f0"/><text x="715" y="297">Taiwan</text></g>
<g id="b-czech"><circle cx="849" cy="295" r="3" fill="#666"/><text x="849" y="298">Czech Republic</text></g>
<g id="b-colombia"><circle cx="915" cy="298" r="3" fill="#c9b8e0"/><text x="915" y="301">Colombia</text></g>
<g id="b-argentina"><circle cx="1105" cy="310" r="3.5" fill="#1a9ad0"/><text x="1105" y="313">Argentina</text></g>
<g id="b-finland"><circle cx="1173" cy="316" r="3"/><text x="1173" y="319">Finland</text></g>
<g id="b-latvia"><circle cx="1237" cy="314" r="3"/><text x="1237" y="317">Latvia</text></g>
<g id="b-dominican"><circle cx="763" cy="344" r="3" fill="#8cc63a"/><text x="763" y="347">Dominican Republic</text></g>
<g id="b-guadeloupe"><circle cx="1298" cy="348" r="3"/><text x="1298" y="351">Guadeloupe</text></g>
<g id="b-australia"><circle cx="821" cy="354" r="3" fill="#999"/><text x="821" y="357">Australia</text></g>
<g id="b-italy"><circle cx="883" cy="356" r="3"/><text x="883" y="359">Italy</text></g>
<g id="b-luxembourg"><circle cx="705" cy="362" r="3" fill="#999"/><text x="705" y="365">Luxembourg</text></g>
<g id="b-vietnam"><circle cx="1242" cy="379" r="3"/><text x="1242" y="382">Viet Nam</text></g>
<g id="b-cote"><circle cx="1182" cy="383" r="3"/><text x="1182" y="386">Cote d'Ivoire</text></g>
<g id="b-panama"><circle cx="777" cy="414" r="3" fill="#999"/><text x="777" y="417">Panama</text></g>
<g id="b-china"><circle cx="842" cy="418" r="3" fill="#a8cc70"/><text x="842" y="421">China</text></g>
<g id="b-ecuador"><circle cx="909" cy="412" r="3" fill="#8cc63a"/><text x="909" y="415">Ecuador</text></g>
<g id="b-netherlands"><circle cx="1083" cy="419" r="3"/><text x="1083" y="422">Netherlands</text></g>
<g id="b-thailand"><circle cx="1288" cy="421" r="3" fill="#ccc"/><text x="1288" y="424">Thailand</text></g>
<g id="b-romania"><circle cx="719" cy="427" r="3" fill="#8cc63a"/><text x="719" y="430">Romania</text></g>
<g id="b-india"><circle cx="1022" cy="442" r="3"/><text x="1022" y="445">India</text></g>
<g id="b-frenchguiana"><circle cx="1145" cy="443" r="3"/><text x="1145" y="446">French Guiana</text></g>
<g id="b-monaco"><circle cx="1213" cy="443" r="3"/><text x="1213" y="446">Monaco</text></g>
<g id="b-germany"><circle cx="959" cy="450" r="3"/><text x="959" y="453">Germany</text></g>
<g id="b-nepal"><circle cx="887" cy="471" r="3" fill="#888"/><text x="887" y="474">Nepal</text></g>
<g id="b-pakistan"><circle cx="820" cy="479" r="3" fill="#888"/><text x="820" y="482">Pakistan</text></g>
<g id="b-egypt"><circle cx="752" cy="481" r="3" fill="#e0b0f0"/><text x="752" y="484">Egypt</text></g>
<g id="b-belgium"><circle cx="1081" cy="479" r="3" fill="#2bb5e8"/><text x="1081" y="482">Belgium</text></g>
<g id="b-greece"><circle cx="1258" cy="482" r="3"/><text x="1258" y="485">Greece</text></g>
<g id="b-cameroon"><circle cx="1172" cy="501" r="3"/><text x="1172" y="504">Cameroon</text></g>
<g id="b-cuba"><circle cx="1015" cy="502" r="3" fill="#2bb5e8"/><text x="1015" y="505">Cuba</text></g>
<g id="b-southafrica"><circle cx="947" cy="512" r="3.5" fill="#f08a1a"/><text x="947" y="515">South Africa</text></g>
<g id="b-russia"><circle cx="1116" cy="528" r="3" fill="#2bb5e8"/><text x="1116" y="531">Russian Federation</text></g>
<g id="b-iran"><circle cx="877" cy="529" r="3.5" fill="#2bb5e8"/><text x="877" y="532">Iran</text></g>
<g id="b-iraq"><circle cx="782" cy="535" r="3.5" fill="#2bb5e8"/><text x="782" y="538">Iraq</text></g>
<g id="b-southkorea"><circle cx="1223" cy="535" r="3"/><text x="1223" y="538">South Korea</text></g>
<g id="b-austria"><circle cx="1056" cy="552" r="3" fill="#2bb5e8"/><text x="1056" y="555">Austria</text></g>
<g id="b-costarica"><circle cx="993" cy="563" r="3" fill="#f08a1a"/><text x="993" y="566">Costa Rica</text></g>
<g id="b-saudi"><circle cx="832" cy="565" r="3.5" fill="#2bb5e8"/><text x="832" y="568">Saudi Arabia</text></g>
<g id="b-benin"><circle cx="928" cy="574" r="3.5" fill="#f08a1a"/><text x="928" y="577">Benin</text></g>
<g id="b-turkey"><circle cx="1173" cy="576" r="3" fill="#2bb5e8"/><text x="1173" y="579">Turkey</text></g>
<g id="b-indonesia"><circle cx="1121" cy="600" r="3" fill="#2bb5e8"/><text x="1121" y="603">Indonesia</text></g>
<g id="b-sudan"><circle cx="876" cy="611" r="3" fill="#2bb5e8"/><text x="876" y="614">Sudan</text></g>
<g id="b-nigeria"><circle cx="1068" cy="621" r="3" fill="#f08a1a"/><text x="1068" y="624">Nigeria</text></g>
<g id="b-mongolia"><circle cx="1012" cy="629" r="3"/><text x="1012" y="632">Mongolia</text></g>
<g id="b-yemen"><circle cx="949" cy="632" r="3" fill="#2bb5e8"/><text x="949" y="635">Yemen</text></g>
<g id="b-portugal"><circle cx="995" cy="384" r="3"/><text x="995" y="387">Portugal</text></g>
<g id="b-spain"><circle cx="956" cy="245" r="3.5" fill="#7cc21e"/><text x="956" y="246" font-size="9">Spain</text></g>
<g id="b-uk"><circle cx="980" cy="313" r="3.5"/><text x="980" y="312" font-size="9">United Kingdom</text></g>
<g id="b-peru"><circle cx="1035" cy="302" r="3.5"/><text x="1036" y="304" font-size="10">Peru</text></g>
<g id="b-france"><circle cx="1120" cy="368" r="3.5"/><text x="1120" y="371" font-size="9">France</text></g>
<g id="b-unitedstates"><circle cx="947" cy="363" r="4"/><text x="949" y="362" font-size="11">United States</text></g>
<g id="b-brazil"><circle cx="1051" cy="365" r="7" fill="#cf8ee6" stroke="#a05ac4" stroke-width="1.5"/><text x="1053.5" y="366" font-size="24">Brazil</text></g>
</g>
</svg>
